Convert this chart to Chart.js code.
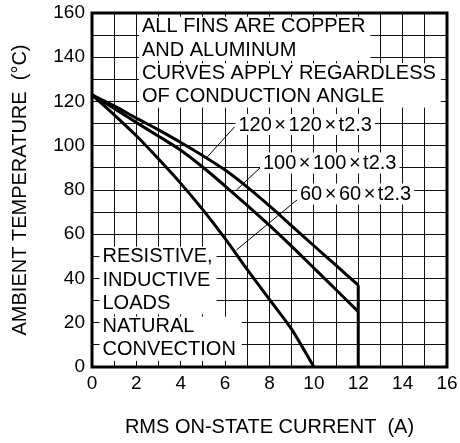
<!DOCTYPE html>
<html><head><meta charset="utf-8">
<script src="https://cdn.jsdelivr.net/npm/chart.js@4/dist/chart.umd.min.js"></script>
<style>html,body{margin:0;padding:0;background:#fff}canvas{display:block}</style>
</head><body>
<canvas id="c" width="460" height="443"></canvas>
<script>
// ---- data ----
const curve120X = [0, 1, 2, 3, 4, 5, 6, 7, 8, 9, 10, 11, 12];
const curve120Y = [123, 118, 112.5, 107.2, 101.5, 95.5, 89, 81.3, 72.8, 63.8, 54.8, 45.9, 37];
const curve100X = [0, 1, 2, 3, 4, 5, 6, 7, 8, 9, 10, 11, 12];
const curve100Y = [123, 116.8, 110.5, 104.3, 98, 90.3, 81.8, 73, 64, 54.5, 44.7, 34.9, 25];
const curve60X  = [0, 1, 2, 3, 4, 5, 6, 7, 8, 9, 10];
const curve60Y  = [123, 114, 104.5, 94, 83, 71, 58, 44, 30.5, 17, 0];
const cutoffX = [12, 12];
const cutoffY = [37, 0];
const leader120X = [6.42, 5.14], leader120Y = [108.5, 94.3];
const leader100X = [7.71, 6.51], leader100Y = [91.3, 80.0];
const leader60X  = [9.3, 6.51],  leader60Y  = [76.0, 52.9];
const seriesLabels = ['120×120×t2.3', '100×100×t2.3', '60×60×t2.3'];
const noteTop = [['ALL FINS ARE COPPER', 'AND ALUMINUM'], ['CURVES APPLY REGARDLESS', 'OF CONDUCTION ANGLE']];
const noteLeft = [['RESISTIVE,', 'INDUCTIVE', 'LOADS'], ['NATURAL', 'CONVECTION']];
const xTitle = 'RMS ON-STATE CURRENT  (A)';
const yTitle = 'AMBIENT TEMPERATURE  (°C)';
const xMin = 0, xMax = 16, xStep = 1;
const yMin = 0, yMax = 160, yStep = 10;

const FF = "'Liberation Sans', Arial, Helvetica, sans-serif";
Chart.defaults.font.family = FF;
Chart.defaults.color = '#000';

const pts = (xs, ys) => xs.map((x, i) => ({x, y: ys[i]}));
const curveStyle = {borderColor: '#000', borderWidth: 3, pointRadius: 0, fill: false, tension: 0.3};
const leaderStyle = {borderColor: '#000', borderWidth: 1, pointRadius: 0, fill: false, tension: 0};

const annot = {
  id: 'annot',
  afterDatasetsDraw(chart) {
    const ctx = chart.ctx;
    ctx.save();
    ctx.font = '20px ' + FF;
    ctx.textBaseline = 'middle';
    ctx.textAlign = 'left';
    const step = 23.3;
    function block(lines, x, y0, padR) {
      const w = Math.max(...lines.map(l => ctx.measureText(l).width));
      const yLast = y0 + (lines.length - 1) * step;
      ctx.fillStyle = '#fff';
      ctx.fillRect(x - 3, y0 - 10, w + 3 + padR, yLast + 11 - (y0 - 10));
      ctx.fillStyle = '#000';
      lines.forEach((l, i) => ctx.fillText(l, x, y0 + i * step));
    }
    block(noteTop[0], 142, 26.7, 5);
    block(noteTop[1], 142, 26.7 + 2 * step, 5);
    block(noteLeft[0], 102.5, 256.7, 4);
    block(noteLeft[1], 102.5, 256.7 + 3 * step, 6);

    function label(text, x, yc) {
      const parts = text.split('×');
      const gap = 2.5;
      let w = 0;
      parts.forEach((p, i) => { w += ctx.measureText(p).width; if (i < parts.length - 1) w += ctx.measureText('×').width + 2 * gap; });
      ctx.fillStyle = '#fff';
      ctx.fillRect(x - 3, yc - 11, w + 6, 21);
      ctx.fillStyle = '#000';
      let cx = x;
      parts.forEach((p, i) => {
        ctx.fillText(p, cx, yc); cx += ctx.measureText(p).width;
        if (i < parts.length - 1) { cx += gap; ctx.fillText('×', cx, yc); cx += ctx.measureText('×').width + gap; }
      });
    }
    label(seriesLabels[0], 238.5, 125);
    label(seriesLabels[1], 263, 163.5);
    label(seriesLabels[2], 300, 194.5);

    const a = chart.chartArea;
    ctx.lineWidth = 3;
    ctx.strokeStyle = '#000';
    ctx.strokeRect(a.left, a.top, a.right - a.left, a.bottom - a.top);
    ctx.restore();
  }
};

new Chart(document.getElementById('c'), {
  type: 'line',
  data: {
    datasets: [
      Object.assign({label: seriesLabels[0], data: pts(curve120X, curve120Y)}, curveStyle),
      Object.assign({label: seriesLabels[1], data: pts(curve100X, curve100Y)}, curveStyle),
      Object.assign({label: seriesLabels[2], data: pts(curve60X, curve60Y)}, curveStyle),
      Object.assign({label: 'cutoff', data: pts(cutoffX, cutoffY)}, curveStyle, {tension: 0}),
      Object.assign({label: 'l120', data: pts(leader120X, leader120Y)}, leaderStyle),
      Object.assign({label: 'l100', data: pts(leader100X, leader100Y)}, leaderStyle),
      Object.assign({label: 'l60', data: pts(leader60X, leader60Y)}, leaderStyle)
    ]
  },
  options: {
    responsive: false,
    animation: false,
    devicePixelRatio: 1,
    layout: {padding: {left: 0, top: 13, right: 13, bottom: 0}},
    plugins: {legend: {display: false}, tooltip: {enabled: false}},
    scales: {
      x: {
        type: 'linear', min: xMin, max: xMax,
        ticks: {stepSize: xStep, autoSkip: false, maxRotation: 0, font: {size: 19}, color: '#000', padding: 5,
                callback: v => (v % 2 === 0 ? String(v) : '')},
        grid: {color: '#111', lineWidth: 1, drawTicks: false},
        border: {display: false},
        title: {display: true, text: xTitle, font: {size: 20}, color: '#000', padding: {top: 0, bottom: 4}},
        afterFit: s => { s.height = 76; s.paddingLeft = 0; s.paddingRight = 0; }
      },
      y: {
        type: 'linear', min: yMin, max: yMax,
        ticks: {stepSize: yStep, autoSkip: false, font: {size: 19}, color: '#000', padding: 7,
                callback: v => (v % 20 === 0 ? String(v) : '')},
        grid: {color: '#111', lineWidth: 1, drawTicks: false},
        border: {display: false},
        title: {display: true, text: yTitle, font: {size: 20}, color: '#000', padding: {top: 8, bottom: 0}},
        afterFit: s => { s.width = 92; s.paddingTop = 0; s.paddingBottom = 0; }
      }
    }
  },
  plugins: [annot]
});
</script>
</body></html>
